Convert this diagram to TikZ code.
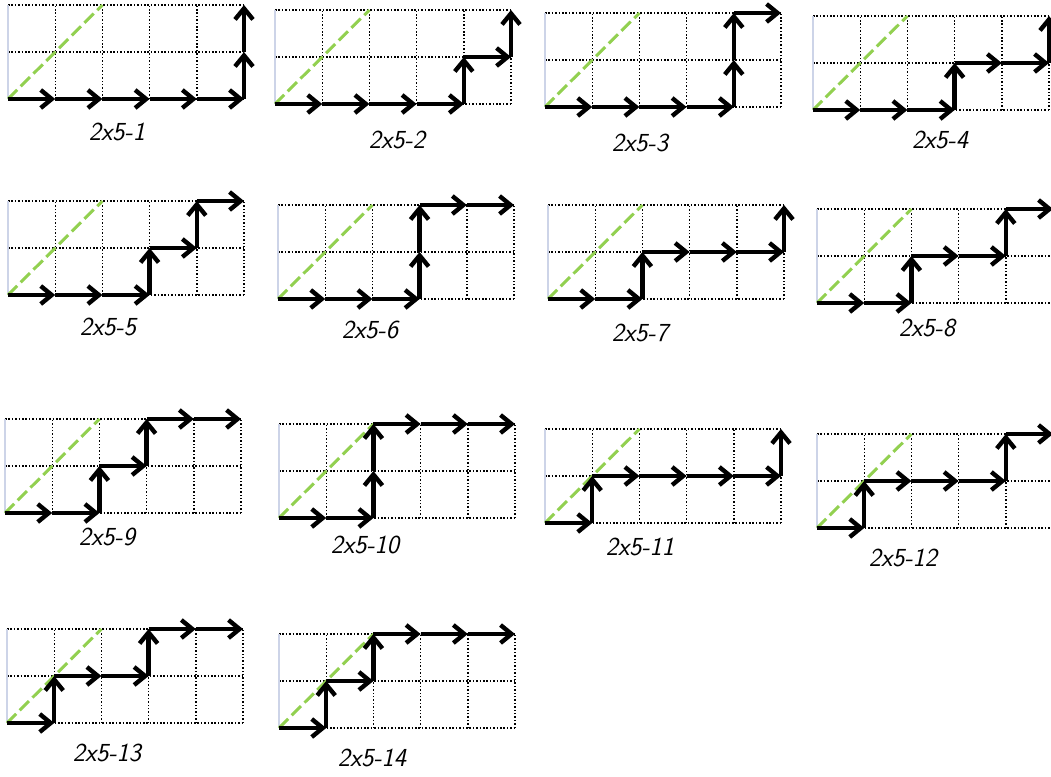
\documentclass[tikz,border=0pt]{standalone}
\usepackage{tikz}
\usetikzlibrary{arrows.meta}
\definecolor{diaggreen}{RGB}{146,208,80}
\definecolor{edgeblue}{RGB}{205,212,232}

\begin{document}
\begin{tikzpicture}[
    x=1pt, y=-1pt,
    gridline/.style={line width=1.4pt, dash pattern=on 1.5pt off 1.9pt},
    leftedge/.style={draw=edgeblue, line width=1.4pt},
    diag/.style={draw=diaggreen, line width=3pt, dash pattern=on 13pt off 5pt},
    move/.style={line width=4.4pt, -{Straight Barb[length=11pt, width=18pt]}},
    caption/.style={font=\sffamily\itshape\fontsize{26}{30}\selectfont, inner sep=0pt}
  ]
  \useasboundingbox (0,0) rectangle (1051,776);
  \clip (0,0) rectangle (1051,776);

  % grid corner / caption position / number / lattice points of the path
  \foreach \ox/\oy/\lx/\ly/\num/\pts in {
      8/5/117/132/1/{1/0,2/0,3/0,4/0,5/0,5/1,5/2},
      275/10/397/140/2/{1/0,2/0,3/0,4/0,4/1,5/1,5/2},
      545/13/640/143/3/{1/0,2/0,3/0,4/0,4/1,4/2,5/2},
      813/16/940/140/4/{1/0,2/0,3/0,3/1,4/1,5/1,5/2},
      8/201/108/327/5/{1/0,2/0,3/0,3/1,4/1,4/2,5/2},
      278/205/370/330/6/{1/0,2/0,3/0,3/1,3/2,4/2,5/2},
      548/205/640/333/7/{1/0,2/0,2/1,3/1,4/1,5/1,5/2},
      817/209/927/328/8/{1/0,2/0,2/1,3/1,4/1,4/2,5/2},
      5/419/107/537/9/{1/0,2/0,2/1,3/1,3/2,4/2,5/2},
      279/424/365/545/10/{1/0,2/0,2/1,2/2,3/2,4/2,5/2},
      545/429/640/547/11/{1/0,1/1,2/1,3/1,4/1,5/1,5/2},
      817/434/903/558/12/{1/0,1/1,2/1,3/1,4/1,4/2,5/2},
      7/629/107/753/13/{1/0,1/1,2/1,3/1,3/2,4/2,5/2},
      279/634/372/758/14/{1/0,1/1,2/1,2/2,3/2,4/2,5/2}}{
    \begin{scope}[shift={(\ox,{\oy+94})}, x=47.2pt, y=47pt]
      \foreach \r in {0,1,2}
        \draw[gridline] (0,\r) -- (5,\r);
      \foreach \c in {1,...,5}
        \draw[gridline] (\c,0) -- (\c,2);
      \draw[leftedge] (0,0) -- (0,2);
      \draw[diag] (0,0) -- (2,2);
      \foreach \x/\y [remember=\x as \px (initially 0), remember=\y as \py (initially 0)] in \pts
        \draw[move] (\px,\py) -- (\x,\y);
    \end{scope}
    \node[caption] (cap\num) at (\lx,\ly) {2x5-\num};
  }
\end{tikzpicture}
\end{document}
